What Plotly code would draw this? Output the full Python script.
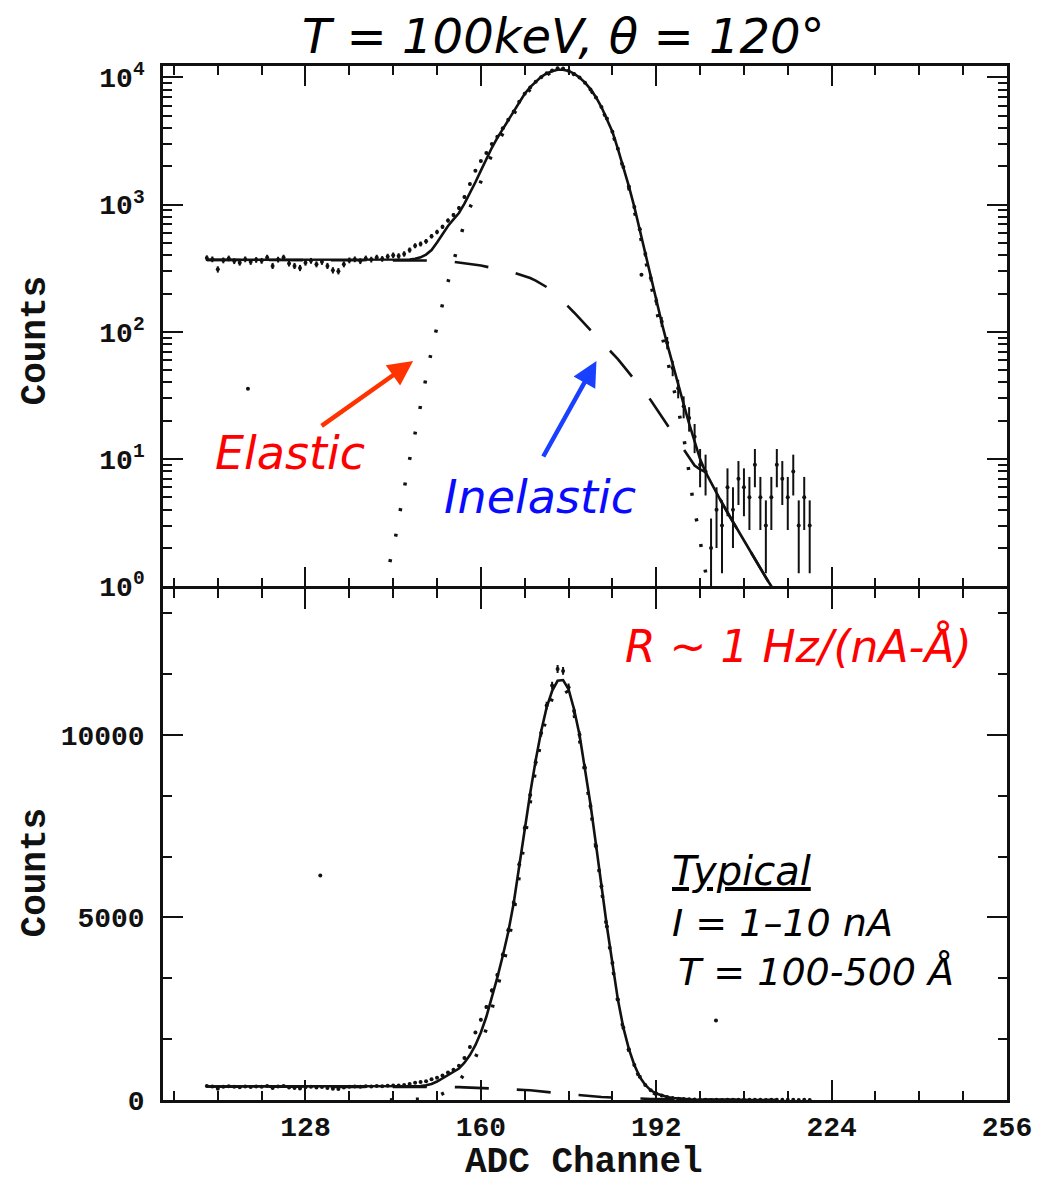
import numpy as np
import plotly.graph_objects as go

# ---------------- data ----------------
channels = list(range(110, 221))
counts = [
    380, 372, 310, 365, 378, 360, 350, 372, 355, 368,   # 110-119
    362, 385, 330, 370, 384, 345, 330, 318, 350, 362,   # 120-129
    340, 355, 330, 305, 300, 340, 365, 372, 360, 378,   # 130-139
    370, 385, 375, 392, 400, 395, 410, 440, 475, 490,   # 140-149
    515, 565, 610, 670, 750, 830, 940, 1150, 1450, 1850,  # 150-159
    2200, 2550, 3000, 3420, 3980, 4650, 5400, 6450, 7450, 8350,  # 160-169
    9250, 10050, 10800, 11350, 11800, 11750, 11300, 10650, 10000, 9100,  # 170-179
    8050, 6950, 5850, 4750, 3750, 2750, 1980, 1390, 960, 640,  # 180-189
    410, 265, 175, 120, 82, 52, 36, 26, 21, 15,   # 190-199
    9, 8, 2, 4, 3, 6, 4, 7, 6, 5,                 # 200-209
    9, 5, 3, 5, 9, 7, 5, 8, 3, 5,                 # 210-219
    3,                                            # 220
]

fit_ch = [110, 146] + list(range(147, 215))
fit_total = [
    368, 368,
    370, 375, 385, 405, 440, 505, 590, 680, 765,          # 147-155
    860, 1020, 1230, 1500, 1850, 2280, 2800, 3350, 3950,  # 156-164
    4600, 5400, 6400, 7450, 8400, 9300, 10100, 10750, 11200,  # 165-173
    11480, 11500, 11250, 10700, 10000, 9100, 8100, 7000, 5850,  # 174-182
    4750, 3750, 2750, 1980, 1400, 960, 630, 410, 265,     # 183-191
    175, 118, 80, 55, 39, 27, 19, 13.5, 10,               # 192-200
    7.9, 6.5, 5.4, 4.5, 3.8, 3.2, 2.7, 2.3, 1.95,         # 201-209
    1.63, 1.38, 1.17, 1.0, 0.84,                          # 210-214
]

inel_ch = [110, 150] + list(range(153, 215))
inel_val = [
    368, 368,
    364, 360, 356, 352, 347, 342, 337, 332, 326, 320,     # 153-162
    313, 306, 299, 292, 284, 275, 265, 253, 240, 225,     # 163-172
    208, 190, 172, 157, 142, 127, 114, 103, 93, 84,       # 173-182
    76, 68, 61, 54, 48, 42.5, 37.5, 33, 29, 25,           # 183-192
    21.5, 18.5, 16, 14, 12, 10.3, 8.9, 8.3, 7.9, 6.5,     # 193-202
    5.4, 4.5, 3.8, 3.2, 2.7, 2.3, 1.95, 1.63, 1.38, 1.17, # 203-212
    1.0, 0.84,                                            # 213-214
]

el_ch = [143.4, 144.4, 145.2, 146.0, 146.9, 147.9, 148.8, 149.7, 150.6,
         151.6, 152.7, 153.9, 155.1, 156.4, 157.8] + list(range(159, 198)) + \
        [198.2, 198.8, 199.8, 200.4, 201.3]
el_val = [1.55, 2.4, 3.76, 6.0, 9.5, 15.2, 24.3, 38, 59,
          93, 149, 238, 368, 588, 911,
          1160, 1520, 1950, 2480, 3040, 3640, 4300, 5110, 6120, 7180,   # 159-168
          8140, 9050, 9860, 10520, 10990, 11290, 11330, 11095, 10560,   # 169-177
          9875, 8990, 8000, 6910, 5770, 4675, 3680, 2690, 1925,         # 178-186
          1350, 915, 590, 375, 235, 150, 96, 61, 39, 25, 15,            # 187-197
          6.8, 4.26, 2.71, 1.75, 1.11]

stray_top_ch = [117.5, 189.3]
stray_top_val = [35.7, 281]
stray_bot_ch = [130.7, 202.9]
stray_bot_val = [6145, 2180]

x_tick_vals = [128, 160, 192, 224, 256]
log_tick_vals = [1, 10, 100, 1000, 10000]
log_tick_text = ["10<sup>0</sup>", "10<sup>1</sup>", "10<sup>2</sup>",
                 "10<sup>3</sup>", "10<sup>4</sup>"]
lin_tick_vals = [0, 5000, 10000]
lin_tick_text = ["0", "5000", "10000"]

# Poisson uncertainties on the counts
count_err = list(np.sqrt(np.array(counts, dtype=float)))

# ---------------- layout geometry (pixels) ----------------
W, H = 1044, 1182
L, R, T, B = 163, 1010, 66, 1100
LW = 2.5


def px_x(px):
    return (px - L) / (R - L)


def px_y(py):
    return (B - py) / (B - T)


split = px_y(587.5)
half_gap = (LW / 2) / (B - T)

fig = go.Figure()

black = "#111111"
for ax_x, ax_y in (("x", "y"), ("x2", "y2")):
    fig.add_trace(go.Scatter(
        x=channels, y=counts, mode="markers", xaxis=ax_x, yaxis=ax_y,
        marker=dict(size=4, color=black),
        error_y=dict(type="data", array=count_err, visible=True,
                     thickness=2, width=0, color=black),
        showlegend=False))
    fig.add_trace(go.Scatter(
        x=inel_ch, y=inel_val, mode="lines", xaxis=ax_x, yaxis=ax_y,
        line=dict(color=black, width=2.6, dash="34px,28px"),
        showlegend=False))
    fig.add_trace(go.Scatter(
        x=el_ch, y=el_val, mode="lines", xaxis=ax_x, yaxis=ax_y,
        line=dict(color=black, width=3.5, dash="3px,23px"),
        showlegend=False))
    fig.add_trace(go.Scatter(
        x=fit_ch, y=fit_total, mode="lines", xaxis=ax_x, yaxis=ax_y,
        line=dict(color=black, width=2.6),
        showlegend=False))

fig.add_trace(go.Scatter(x=stray_top_ch, y=stray_top_val, mode="markers",
                         xaxis="x", yaxis="y", marker=dict(size=4, color=black),
                         showlegend=False))
fig.add_trace(go.Scatter(x=stray_bot_ch, y=stray_bot_val, mode="markers",
                         xaxis="x2", yaxis="y2", marker=dict(size=4, color=black),
                         showlegend=False))

tick_font = dict(family="Liberation Mono", size=28, color=black, weight="bold")
common_x = dict(range=[102, 256], tickvals=x_tick_vals, ticks="inside",
                ticklen=20, tickwidth=2, tickcolor=black,
                minor=dict(dtick=8, tick0=0, ticks="inside", ticklen=9,
                           tickwidth=2, tickcolor=black),
                showline=True, linewidth=LW, linecolor=black, mirror="ticks",
                showgrid=False, zeroline=False)

log_minor = [m * 10 ** e for e in range(0, 5) for m in range(2, 10)]

fig.update_layout(
    width=W, height=H,
    margin=dict(l=L, r=W - R, t=T, b=H - B, pad=0),
    paper_bgcolor="white", plot_bgcolor="white",
    xaxis=dict(common_x, anchor="y", domain=[0, 1], showticklabels=False),
    yaxis=dict(type="log", range=[0, 4.09], domain=[split + half_gap, 1],
               anchor="x",
               tickvals=log_tick_vals, ticktext=log_tick_text,
               ticks="inside", ticklen=20, tickwidth=2, tickcolor=black,
               minor=dict(tickvals=log_minor, ticks="inside", ticklen=9,
                          tickwidth=2, tickcolor=black),
               showline=True, linewidth=LW, linecolor=black, mirror="ticks",
               showgrid=False, zeroline=False, tickfont=tick_font,
               ticklabelstandoff=10),
    xaxis2=dict(common_x, anchor="y2", domain=[0, 1], showticklabels=True,
                tickfont=tick_font, ticklabelstandoff=0),
    yaxis2=dict(range=[0, 14000], domain=[0, split - half_gap], anchor="x2",
                tickvals=lin_tick_vals, ticktext=lin_tick_text,
                ticks="inside", ticklen=20, tickwidth=2, tickcolor=black,
                minor=dict(dtick=5000 / 3, tick0=0, ticks="inside", ticklen=9,
                           tickwidth=2, tickcolor=black),
                showline=True, linewidth=LW, linecolor=black, mirror="ticks",
                showgrid=False, zeroline=False, tickfont=tick_font,
                ticklabelstandoff=10),
)

label_font = dict(family="Liberation Mono", size=36, color=black, weight="bold")
ital = dict(family="DejaVu Sans", style="italic")

ann = []
ann.append(dict(text="T = 100keV, θ = 120°", x=px_x(565), y=px_y(36),
                font=dict(ital, size=48, color="#000000")))
ann.append(dict(text="Counts", x=px_x(35), y=px_y(340), textangle=-90,
                font=label_font))
ann.append(dict(text="Counts", x=px_x(35), y=px_y(872), textangle=-90,
                font=label_font))
ann.append(dict(text="ADC Channel", x=px_x(585), y=px_y(1162), font=label_font))
ann.append(dict(text="Elastic", x=px_x(290), y=px_y(453),
                font=dict(ital, size=46, color="#ff0000")))
ann.append(dict(text="Inelastic", x=px_x(541), y=px_y(497),
                font=dict(ital, size=46, color="#0a0aff")))
ann.append(dict(text="R ~ 1 Hz/(nA-Å)", x=px_x(801), y=px_y(646),
                font=dict(ital, size=44, color="#ff0000")))
ann.append(dict(text="<u>Typical</u>", x=px_x(672), y=px_y(871), xanchor="left",
                font=dict(ital, size=40, color="#000000")))
ann.append(dict(text="I = 1–10 nA", x=px_x(672), y=px_y(923), xanchor="left",
                font=dict(ital, size=38, color="#000000")))
ann.append(dict(text="T = 100-500 Å", x=px_x(678), y=px_y(972), xanchor="left",
                font=dict(ital, size=38, color="#000000")))
for a in ann:
    a.setdefault("xanchor", "center")
    a.update(xref="paper", yref="paper", yanchor="middle", showarrow=False)

arrows = [
    dict(x=px_x(414), y=px_y(361), ax=-93, ay=66, arrowcolor="#ff3300"),
    dict(x=px_x(598), y=px_y(361), ax=-54, ay=97, arrowcolor="#1a40ff"),
]
for a in arrows:
    a.update(xref="paper", yref="paper", text="", showarrow=True,
             arrowhead=2, arrowsize=1.1, arrowwidth=4.5)
    ann.append(a)

fig.update_layout(annotations=ann)

fig.write_html("out.html",
               config={"displayModeBar": False},
               post_script="document.body.style.margin='0';"
                           "document.body.style.overflow='hidden';")
